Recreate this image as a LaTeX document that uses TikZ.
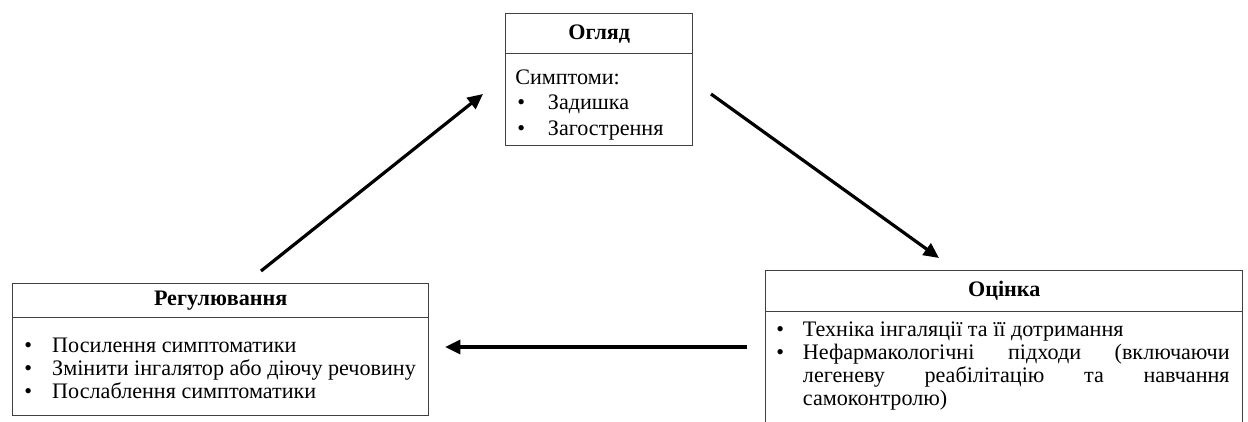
\documentclass[tikz,border=0pt]{standalone}
\usepackage{fontspec}
\setmainfont{Liberation Serif}
\usetikzlibrary{arrows.meta}
\newcommand{\bul}[1]{\makebox[#1][l]{•}}
\begin{document}
\begin{tikzpicture}[x=0.75pt,y=-0.75pt,
  hdr/.style={draw=black!75, line width=1.1pt, inner sep=0pt, anchor=north west, font=\bfseries\fontsize{16.6}{18}\selectfont},
  bodybox/.style={draw=black!75, line width=1.1pt, inner sep=0pt, anchor=north west},
  txt/.style={anchor=base west, inner sep=0pt, font=\fontsize{16.6}{18}\selectfont},
  flow/.style={line width=2.4pt, -{Triangle[length=11.5pt,width=10.5pt]}}]
\useasboundingbox (0,0) rectangle (1248,421);
\clip (0,0) rectangle (1248,421);
% Огляд
\node[hdr, minimum width=140.25pt, minimum height=30pt] (ogh) at (505,13) {Огляд};
\node[bodybox, minimum width=140.25pt, minimum height=69pt] (ogb) at (505,53) {};
\node[txt] (og0) at (515,84) {Симптоми:};
\node[txt] (og1) at (517,109) {\bul{23pt}Задишка};
\node[txt] (og2) at (517,135) {\bul{23pt}Загострення};
% Регулювання
\node[hdr, minimum width=312pt, minimum height=25.5pt] (rgh) at (12,283) {Регулювання};
\node[bodybox, minimum width=312pt, minimum height=73.5pt] (rgb) at (12,317) {};
\node[txt] (rg1) at (24,352) {\bul{21pt}Посилення симптоматики};
\node[txt] (rg2) at (24,375) {\bul{21pt}Змінити інгалятор або діючу речовину};
\node[txt] (rg3) at (24,398) {\bul{21pt}Послаблення симптоматики};
% Оцінка
\node[hdr, minimum width=357.75pt, minimum height=30.75pt] (och) at (765,270) {Оцінка};
\node[bodybox, minimum width=357.75pt, minimum height=120pt] (ocb) at (765,311) {};
\node[txt] (oc1) at (776,336) {\bul{20pt}Техніка інгаляції та її дотримання};
\node[txt] (oc2) at (776,359) {\bul{20pt}\makebox[320pt][s]{Нефармакологічні підходи (включаючи}};
\node[txt] (oc3) at (802.7,382) {\makebox[320pt][s]{легеневу реабілітацію та навчання}};
\node[txt] (oc4) at (802.7,405) {самоконтролю)};
% arrows
\coordinate (a1s) at (261,271); \coordinate (a1e) at (483,94);
\coordinate (a2s) at (711,94);  \coordinate (a2e) at (939,258);
\coordinate (a3s) at (747,347); \coordinate (a3e) at (445,347);
\draw[flow] (a1s) -- (a1e);
\draw[flow] (a2s) -- (a2e);
\draw[flow] (a3s) -- (a3e);
\end{tikzpicture}
\end{document}
